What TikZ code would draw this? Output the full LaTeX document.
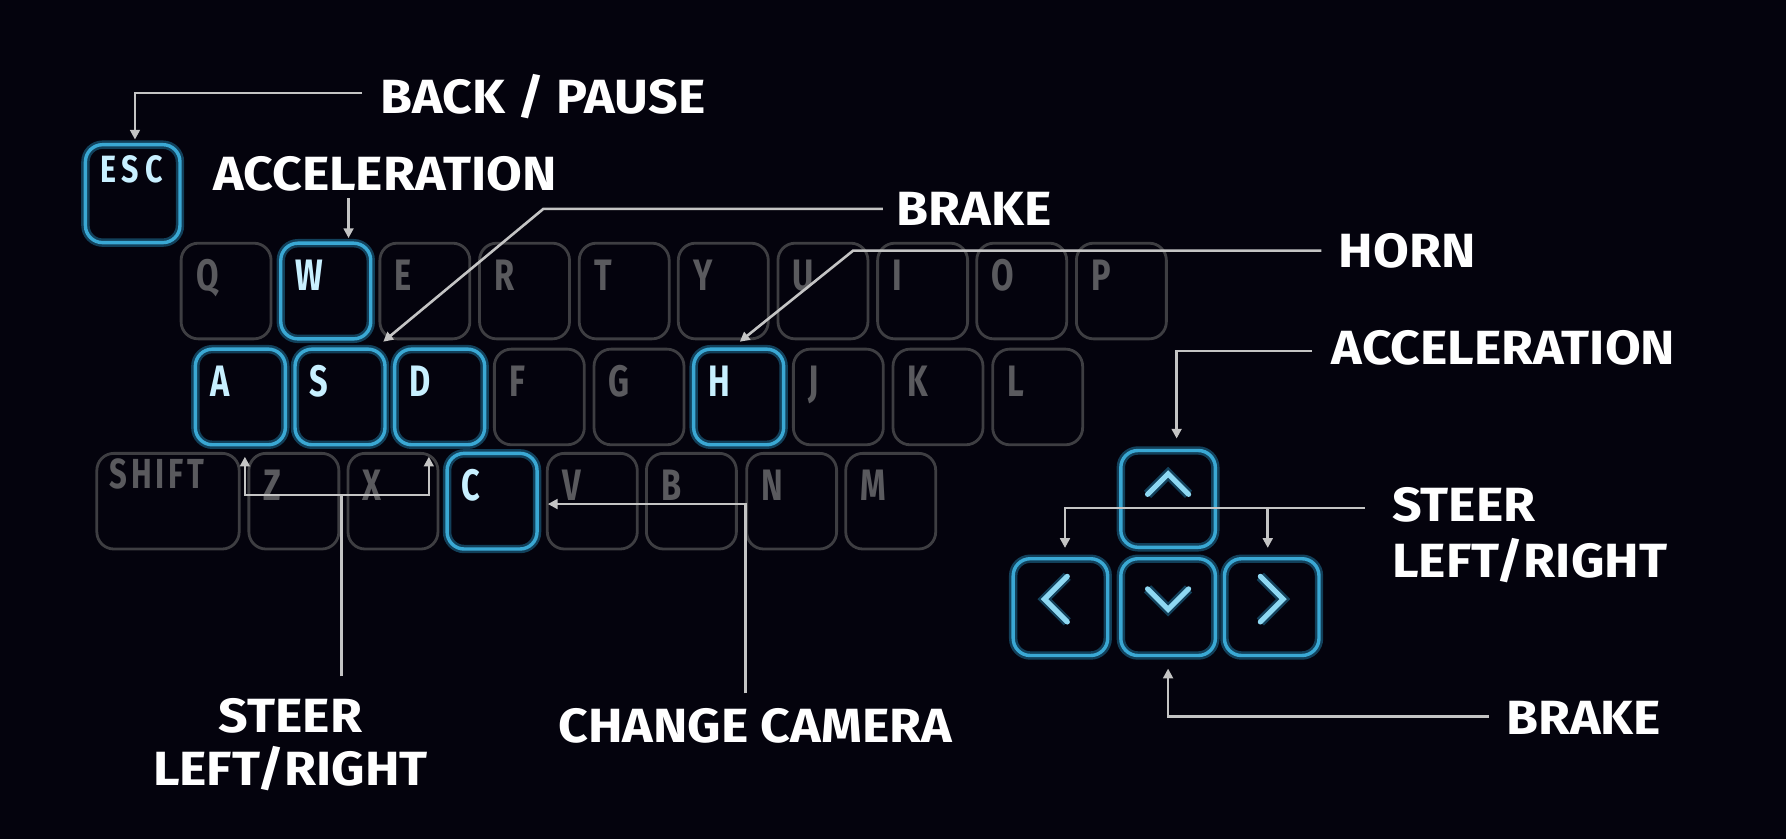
\documentclass[tikz,border=0pt]{standalone}
\usepackage{fontspec}
\setmainfont{Fira Sans}
\newfontfamily\lblfont{Fira Sans}[FakeStretch=1.08]
\newfontfamily\kfont{Fira Sans}[FakeStretch=0.74]
\newfontfamily\shfont{Fira Sans}[FakeStretch=0.74,LetterSpace=9]
\newfontfamily\escfont{Fira Sans}[FakeStretch=0.8,LetterSpace=16]
\usetikzlibrary{calc,arrows.meta}
\definecolor{bg}{HTML}{04030D}
\definecolor{keygray}{HTML}{3E3E42}
\definecolor{lettergray}{HTML}{5A5A5E}
\definecolor{hicyan}{HTML}{3AA8D4}
\definecolor{higlow}{HTML}{1C6A8E}
\definecolor{hitext}{HTML}{C8F0FF}
\definecolor{chevc}{HTML}{8ED8F2}
\definecolor{conncol}{HTML}{C4C4C4}
\newcommand{\kk}[5]{%
  \node[#5] (#1) at (#2,#3) {};
  \node[#5txt] (#1t) at ($(#1.north west)+(14,43)$) {#4};
}
\begin{document}
\begin{tikzpicture}[x=0.02cm,y=-0.02cm,
  keybox/.style={draw=keygray, line width=1.4pt, rounded corners=0.3cm,
    minimum width=1.58cm, minimum height=1.68cm, inner sep=0pt},
  hikey/.style={keybox, draw=hicyan, line width=1.7pt,
    preaction={draw=higlow, line width=4.2pt, opacity=0.6}},
  keyboxtxt/.style={anchor=base west, inner sep=0pt, text=lettergray,
    font=\kfont\bfseries\fontsize{22}{22}\selectfont},
  hikeytxt/.style={anchor=base west, inner sep=0pt, text=hitext,
    font=\kfont\bfseries\fontsize{22}{22}\selectfont},
  lbl/.style={inner sep=0pt, text=white, text depth=0pt,
    font=\lblfont\bfseries\fontsize{24}{24}\selectfont},
  conn/.style={draw=conncol, line width=1.3pt, -{Triangle[length=0.17cm,width=0.17cm]}},
  connline/.style={draw=conncol, line width=1.3pt},
  chev/.style={draw=chevc, line width=2.6pt, line cap=round, line join=miter,
    preaction={draw=higlow, line width=5pt, opacity=0.6}}
]
\path[fill=bg] (0,0) rectangle (1568,737);
\useasboundingbox (0,0) rectangle (1568,737);

% ESC
\node[hikey, minimum width=1.66cm, minimum height=1.72cm] (ESC) at (116.5,170) {};
\node[inner sep=0pt, text=hitext, font=\escfont\bfseries\fontsize{19}{19}\selectfont]
  (ESCt) at ($(ESC.north)+(-1,23)$) {ESC};

% row 1
\kk{Q}{198.5}{255.5}{Q}{keybox}
\kk{W}{286}{255.5}{W}{hikey}
\kk{E}{373}{255.5}{E}{keybox}
\kk{R}{460.5}{255.5}{R}{keybox}
\kk{T}{548}{255.5}{T}{keybox}
\kk{Y}{635}{255.5}{Y}{keybox}
\kk{U}{722.5}{255.5}{U}{keybox}
\kk{I}{810}{255.5}{I}{keybox}
\kk{O}{897}{255.5}{O}{keybox}
\kk{P}{984.5}{255.5}{P}{keybox}
% row 2
\kk{A}{211}{348.5}{A}{hikey}
\kk{S}{298.5}{348.5}{S}{hikey}
\kk{D}{386}{348.5}{D}{hikey}
\kk{F}{473.5}{348.5}{F}{keybox}
\kk{G}{561}{348.5}{G}{keybox}
\kk{H}{648.5}{348.5}{H}{hikey}
\kk{J}{736}{348.5}{J}{keybox}
\kk{K}{823.5}{348.5}{K}{keybox}
\kk{L}{911}{348.5}{L}{keybox}
% row 3
\node[keybox, minimum width=2.5cm] (SH) at (147.5,440) {};
\node[keyboxtxt, font=\shfont\bfseries\fontsize{21}{21}\selectfont] (SHt) at ($(SH.north west)+(12,32)$) {SHIFT};
\kk{Z}{258}{440}{Z}{keybox}
\kk{X}{345}{440}{X}{keybox}
\kk{C}{432}{440}{C}{hikey}
\kk{V}{520}{440}{V}{keybox}
\kk{B}{607}{440}{B}{keybox}
\kk{N}{695}{440}{N}{keybox}
\kk{M}{782}{440}{M}{keybox}

% arrow keys
\node[hikey, minimum width=1.66cm, minimum height=1.7cm] (Up) at (1025.5,438) {};
\node[hikey, minimum width=1.66cm, minimum height=1.7cm] (Lt) at (931,533) {};
\node[hikey, minimum width=1.66cm, minimum height=1.7cm] (Dn) at (1025.5,533) {};
\node[hikey, minimum width=1.66cm, minimum height=1.7cm] (Rt) at (1116.5,533) {};
\draw[chev] ($(Up.center)+(-18,-4)$) -- ($(Up.center)+(0,-22)$) -- ($(Up.center)+(18,-4)$);
\draw[chev] ($(Lt.center)+(6,-27)$) -- ($(Lt.center)+(-14,-7)$) -- ($(Lt.center)+(6,13)$);
\draw[chev] ($(Dn.center)+(-18,-16)$) -- ($(Dn.center)+(0,2)$) -- ($(Dn.center)+(18,-16)$);
\draw[chev] ($(Rt.center)+(-10,-27)$) -- ($(Rt.center)+(10,-7)$) -- ($(Rt.center)+(-10,13)$);

% labels
\node[lbl, anchor=base west] (bp) at (334,100) {BACK / PAUSE};
\node[lbl, anchor=base west] (accT) at (187,167) {ACCELERATION};
\node[lbl, anchor=base west] (brT) at (787,198) {BRAKE};
\node[lbl, anchor=base west] (horn) at (1175,235) {HORN};
\node[lbl, anchor=base west] (accR) at (1169,320) {ACCELERATION};
\node[lbl, anchor=base west] (stR1) at (1222,458) {STEER};
\node[lbl, anchor=base west] (stR2) at (1222,507) {LEFT/RIGHT};
\node[lbl, anchor=base west] (brB) at (1322,645) {BRAKE};
\node[lbl, anchor=base] (stL1) at (255,643) {STEER};
\node[lbl, anchor=base] (stL2) at (255,690) {LEFT/RIGHT};
\node[lbl, anchor=base west] (cc) at (490,652) {CHANGE CAMERA};

% connectors
\draw[conn] ($(bp.west)+(-16,-1)$) -| ($(ESC.north)+(2,-3)$);
\draw[conn] ($(W.north)+(20,-38)$) -- ($(W.north)+(20,-3)$);
\draw[conn] ($(brT.west)+(-12,0)$) -- ($(brT.west)+(-310,0)$) -- ($(S.north east)+(-3,-5)$);
\draw[conn] ($(horn.west)+(-15,0)$) -- ($(horn.west)+(-426,0)$) -- ($(H.north)+(1,-5)$);
\draw[conn] ($(accR.west)+(-17,3)$) -| ($(Up.north)+(7.5,-9)$);
\coordinate (stY) at ($(stR1.west)+(-24,3)$);
\coordinate (rtTip) at ($(Rt.north)+(-3.5,-8)$);
\draw[conn] (stY) -| ($(Lt.north)+(4,-8)$);
\draw[conn] (stY -| rtTip) -- (rtTip);
\draw[conn] ($(brB.west)+(-15,-1.5)$) -| ($(Dn.south)+(0,10)$);
\draw[conn, {Triangle[length=0.17cm,width=0.17cm]}-{Triangle[length=0.17cm,width=0.17cm]}]
  ($(A.south)+(4,9)$) -- ($(A.south)+(4,42.5)$) -- ($(D.south)+(-9.5,42.5)$) -- ($(D.south)+(-9.5,9)$);
\coordinate (stemB) at ($(stL1.north)+(45,-19)$);
\draw[connline] (stemB) -- (stemB |- {$(A.south)+(4,42.5)$});
\draw[conn] ($(cc.north)+(-8.5,-13)$) |- ($(C.east)+(8,2.5)$);
\end{tikzpicture}
\end{document}
